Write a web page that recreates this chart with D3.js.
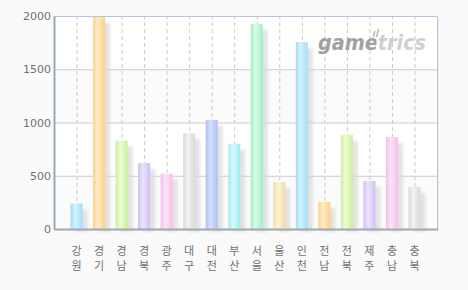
<!DOCTYPE html>
<html>
<head>
<meta charset="utf-8">
<script src="https://cdn.jsdelivr.net/npm/d3@7"></script>
<style>
html, body { margin: 0; padding: 0; background: #fafafa; }
svg { display: block; }
</style>
</head>
<body>
<div id="chart"></div>
<script>
// ----------------------------------------------------------
// DATA -----------------------------------------------------
// ----------------------------------------------------------
var regions = ["강원","경기","경남","경북","광주","대구","대전","부산","서울","울산","인천","전남","전북","제주","충남","충북"];
var values = [240, 1990, 830, 620, 520, 900, 1025, 800, 1925, 440, 1755, 255, 885, 450, 865, 395];
var y_ticks = [0, 500, 1000, 1500, 2000];

// bar colours [edge, highlight]
var palette = [
  ["#a6dcf6", "#d4f2ff"],
  ["#ffcf86", "#ffecc8"],
  ["#cdeea0", "#eaffce"],
  ["#cfbff2", "#ece4ff"],
  ["#f6bee6", "#ffe2f8"],
  ["#d9d9d9", "#f2f2f2"],
  ["#aebef0", "#d6e0ff"],
  ["#a6e8ee", "#d6fbff"],
  ["#a6ecc2", "#d6ffe6"],
  ["#eedcaa", "#fff4d6"]
];

// ----------------------------------------------------------
// STRUCTURE ------------------------------------------------
// ----------------------------------------------------------
var W = 468, H = 290;
var plot = { left: 54, right: 437, top: 16, bottom: 229 };

var svg = d3.select("#chart").append("svg")
  .attr("width", W)
  .attr("height", H)
  .style("background-color", "#fafafa");

var defs = svg.append("defs");
palette.forEach(function(c, i) {
  var g = defs.append("linearGradient")
    .attr("id", "bar_grad_" + i)
    .attr("x1", "0").attr("x2", "1").attr("y1", "0").attr("y2", "0");
  g.append("stop").attr("offset", "0%").attr("stop-color", c[0]);
  g.append("stop").attr("offset", "40%").attr("stop-color", c[1]);
  g.append("stop").attr("offset", "100%").attr("stop-color", c[0]);
});
var blur = defs.append("filter").attr("id", "shadow_blur")
  .attr("x", "-50%").attr("y", "-10%").attr("width", "200%").attr("height", "130%");
blur.append("feGaussianBlur").attr("stdDeviation", 1.6);

// two-tone fill for the watermark ("game" darker, "trics" lighter)
var mark_grad = defs.append("linearGradient")
  .attr("id", "mark_grad")
  .attr("gradientUnits", "userSpaceOnUse")
  .attr("x1", 318).attr("x2", 426).attr("y1", 0).attr("y2", 0);
mark_grad.append("stop").attr("offset", "0.54").attr("stop-color", "#a0a0a0");
mark_grad.append("stop").attr("offset", "0.54").attr("stop-color", "#d0d0d0");

var xScale = d3.scalePoint()
  .domain(regions)
  .range([plot.left, plot.right])
  .padding(1);

var yScale = d3.scaleLinear()
  .domain([0, 2000])
  .range([plot.bottom, plot.top]);

// ----------------------------------------------------------
// LAYOUT ---------------------------------------------------
// ----------------------------------------------------------
// plot frame shadow
svg.append("rect")
  .attr("x", plot.left + 2).attr("y", plot.top + 2)
  .attr("width", plot.right - plot.left).attr("height", plot.bottom - plot.top)
  .style("fill", "#ececec");
svg.append("rect")
  .attr("x", plot.left).attr("y", plot.top)
  .attr("width", plot.right - plot.left).attr("height", plot.bottom - plot.top)
  .style("fill", "#ffffff");

// alternating bands
for (var i = 0; i < y_ticks.length - 1; i++) {
  if (i % 2 == 0) {
    svg.append("rect")
      .attr("x", plot.left)
      .attr("y", yScale(y_ticks[i + 1]))
      .attr("width", plot.right - plot.left)
      .attr("height", yScale(y_ticks[i]) - yScale(y_ticks[i + 1]))
      .style("fill", "#fbfbfb");
  }
}

// horizontal grid
svg.append("g")
  .attr("transform", "translate(" + plot.left + ",0)")
  .call(d3.axisRight(yScale).tickValues(y_ticks.slice(1, -1)).tickSize(plot.right - plot.left).tickFormat(""))
  .call(function(g) {
    g.select(".domain").remove();
    g.selectAll(".tick line").attr("stroke", "#cccccc");
  });

// vertical dashed grid
svg.append("g")
  .attr("transform", "translate(0," + plot.bottom + ")")
  .call(d3.axisTop(xScale).tickSize(plot.bottom - plot.top).tickFormat(""))
  .call(function(g) {
    g.select(".domain").remove();
    g.selectAll(".tick line").attr("stroke", "#cacaca").attr("stroke-dasharray", "4,3");
  });

// top / right border
svg.append("path")
  .attr("d", "M" + plot.left + "," + (plot.top + 0.5) + "H" + (plot.right + 0.5) + "V" + plot.bottom)
  .style("fill", "none")
  .style("stroke", "#b3c8dc");

// ----------------------------------------------------------
// WATERMARK ------------------------------------------------
// ----------------------------------------------------------
svg.append("text")
  .attr("x", 318).attr("y", 50)
  .attr("textLength", 108)
  .attr("lengthAdjust", "spacingAndGlyphs")
  .style("font-family", "DejaVu Sans")
  .style("font-weight", "bold")
  .style("font-style", "italic")
  .style("font-size", "21px")
  .style("fill", "url(#mark_grad)")
  .text("gametrics");
svg.append("path")
  .attr("d", "M375,31 l-1.5,6 M378.5,29 l-2,8")
  .style("stroke", "#b8b8b8").style("stroke-width", 1.5);

// ----------------------------------------------------------
// GFX ------------------------------------------------------
// ----------------------------------------------------------
var barW = 12;

// bar shadows
svg.append("g").selectAll("rect")
  .data(values)
  .enter()
  .append("rect")
  .attr("x", function(d, i) { return xScale(regions[i]) - barW / 2 + 5; })
  .attr("y", function(d) { return yScale(d) + 6; })
  .attr("width", barW)
  .attr("height", function(d) { return plot.bottom - yScale(d) - 3; })
  .style("fill", "#d8d8d8")
  .style("opacity", 0.7)
  .attr("filter", "url(#shadow_blur)");

// bars
svg.append("g").selectAll("rect")
  .data(values)
  .enter()
  .append("rect")
  .attr("x", function(d, i) { return xScale(regions[i]) - barW / 2; })
  .attr("y", function(d) { return yScale(d); })
  .attr("width", barW)
  .attr("height", function(d) { return plot.bottom - yScale(d); })
  .style("fill", function(d, i) { return "url(#bar_grad_" + (i % palette.length) + ")"; });

// ----------------------------------------------------------
// AXES -----------------------------------------------------
// ----------------------------------------------------------
// y axis
svg.append("g")
  .attr("transform", "translate(" + plot.left + ",0)")
  .call(d3.axisLeft(yScale).tickValues(y_ticks).tickSize(0).tickPadding(3).tickFormat(d3.format("d")))
  .call(function(g) {
    g.select(".domain").attr("stroke", "#98a8b8").attr("stroke-width", 2);
    g.selectAll(".tick text")
      .style("fill", "#707070")
      .style("font-family", "DejaVu Sans")
      .style("font-size", "11px");
  });

// x axis line
svg.append("line")
  .attr("x1", plot.left).attr("x2", plot.right + 1)
  .attr("y1", plot.bottom + 0.5).attr("y2", plot.bottom + 0.5)
  .style("stroke", "#a0aab4")
  .style("stroke-width", 2);

// category labels (two stacked characters, one text each)
var label_group = svg.append("g");
regions.forEach(function(d) {
  d.split("").forEach(function(ch, k) {
    label_group.append("text")
      .attr("x", xScale(d))
      .attr("y", 255 + k * 15)
      .attr("text-anchor", "middle")
      .style("fill", "#707070")
      .style("font-family", "'Noto Sans CJK KR'")
      .style("font-size", "11px")
      .text(ch);
  });
});
</script>
</body>
</html>
